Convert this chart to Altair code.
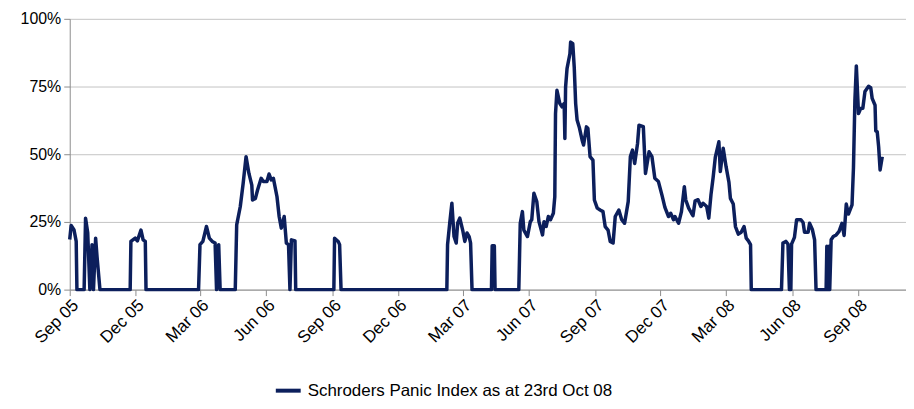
import altair as alt
import pandas as pd

dates = [
    "2005-09-01", "2005-09-03", "2005-09-07", "2005-09-10", "2005-09-11", "2005-09-21", "2005-09-23", "2005-09-26",
    "2005-09-29", "2005-10-02", "2005-10-04", "2005-10-07", "2005-10-09", "2005-10-13", "2005-11-24", "2005-11-25",
    "2005-12-01", "2005-12-04", "2005-12-09", "2005-12-12", "2005-12-15", "2005-12-16",
    "2006-02-27", "2006-03-01", "2006-03-05", "2006-03-10", "2006-03-14", "2006-03-18", "2006-03-22", "2006-03-24",
    "2006-03-27", "2006-03-29", "2006-04-19", "2006-04-21", "2006-04-26", "2006-04-30", "2006-05-04", "2006-05-08",
    "2006-05-12", "2006-05-13", "2006-05-17", "2006-05-20", "2006-05-25", "2006-05-28", "2006-06-02", "2006-06-05",
    "2006-06-08", "2006-06-11", "2006-06-16", "2006-06-19", "2006-06-22", "2006-06-26", "2006-06-29", "2006-07-02",
    "2006-07-04", "2006-07-06", "2006-07-11", "2006-07-12", "2006-09-03", "2006-09-04", "2006-09-09", "2006-09-11",
    "2006-09-13",
    "2007-02-07", "2007-02-08", "2007-02-11", "2007-02-14", "2007-02-17", "2007-02-20", "2007-02-22", "2007-02-25",
    "2007-03-01", "2007-03-04", "2007-03-07", "2007-03-10", "2007-03-12", "2007-03-14", "2007-04-10", "2007-04-11",
    "2007-04-14", "2007-04-15", "2007-05-18", "2007-05-20", "2007-05-23", "2007-05-25", "2007-05-30", "2007-06-03",
    "2007-06-05", "2007-06-08", "2007-06-12", "2007-06-15", "2007-06-20", "2007-06-22", "2007-06-25", "2007-06-28",
    "2007-07-01", "2007-07-05", "2007-07-07", "2007-07-08", "2007-07-10", "2007-07-14", "2007-07-17", "2007-07-20",
    "2007-07-21", "2007-07-22", "2007-07-24", "2007-07-28", "2007-07-29", "2007-08-01", "2007-08-03", "2007-08-05",
    "2007-08-07", "2007-08-10", "2007-08-14", "2007-08-16", "2007-08-20", "2007-08-22", "2007-08-25", "2007-08-29",
    "2007-08-31", "2007-09-04", "2007-09-08", "2007-09-12", "2007-09-15", "2007-09-19", "2007-09-22", "2007-09-26",
    "2007-09-29", "2007-10-04", "2007-10-08", "2007-10-12", "2007-10-17", "2007-10-20", "2007-10-23", "2007-10-26",
    "2007-10-30", "2007-11-01", "2007-11-07", "2007-11-10", "2007-11-15", "2007-11-19", "2007-11-23", "2007-11-28",
    "2007-12-03", "2007-12-07", "2007-12-12", "2007-12-15", "2007-12-19", "2007-12-21", "2007-12-26", "2007-12-30",
    "2008-01-03", "2008-01-05", "2008-01-09", "2008-01-13", "2008-01-15", "2008-01-18", "2008-01-22", "2008-01-26",
    "2008-01-29", "2008-02-03", "2008-02-06", "2008-02-09", "2008-02-12", "2008-02-15", "2008-02-20", "2008-02-22",
    "2008-02-26", "2008-03-01", "2008-03-05", "2008-03-07", "2008-03-11", "2008-03-14", "2008-03-18", "2008-03-22",
    "2008-03-26", "2008-03-29", "2008-04-01", "2008-04-04", "2008-04-05", "2008-05-17", "2008-05-19", "2008-05-23",
    "2008-05-26", "2008-05-28", "2008-05-30", "2008-05-31", "2008-06-04", "2008-06-07", "2008-06-13", "2008-06-16",
    "2008-06-18", "2008-06-23", "2008-06-25", "2008-06-29", "2008-07-02", "2008-07-04", "2008-07-18", "2008-07-19",
    "2008-07-20", "2008-07-22", "2008-07-23", "2008-07-25", "2008-07-28", "2008-08-01", "2008-08-05", "2008-08-09",
    "2008-08-12", "2008-08-15", "2008-08-18", "2008-08-23", "2008-08-25", "2008-08-27", "2008-08-29", "2008-09-01",
    "2008-09-04", "2008-09-07", "2008-09-10", "2008-09-15", "2008-09-18", "2008-09-20", "2008-09-24", "2008-09-25",
    "2008-09-27", "2008-09-29", "2008-10-01", "2008-10-04",
]

values = [
    18.5, 23.7, 22.0, 17.8, 0, 0, 26.4, 21.0,
    0, 16.6, 0, 19.0, 12.0, 0, 0, 17.8,
    19.0, 18.0, 22.0, 18.4, 17.8, 0,
    0, 16.6, 17.8, 23.3, 19.0, 17.8, 17.2, 0,
    16.6, 0, 0, 23.9, 30.7, 39.3, 49.1, 42.9,
    38.6, 33.1, 33.7, 36.8, 41.1, 39.9, 39.9, 42.7,
    40.5, 41.1, 34.3, 27.0, 22.7, 27.0, 17.2, 16.6,
    0, 18.4, 18.0, 0, 0, 19.0, 17.8, 16.6,
    0,
    0, 16.6, 24.5, 31.9, 19.6, 17.2, 24.5, 26.4,
    22.0, 17.8, 20.9, 19.6, 17.2, 0, 0, 16.2,
    16.2, 0, 0, 24.5, 28.8, 22.0, 19.6, 25.1,
    25.8, 35.6, 32.5, 25.1, 20.2, 25.1, 23.3, 27.0,
    25.8, 28.2, 34.3, 65.0, 73.6, 68.7, 67.5, 68.7,
    55.8, 74.8, 81.6, 87.1, 91.4, 90.8, 82.2, 68.7,
    62.6, 60.0, 55.2, 53.4, 60.1, 59.5, 49.1, 47.8,
    33.1, 30.1, 29.4, 28.8, 23.3, 22.0, 17.8, 17.2,
    27.0, 29.4, 25.8, 24.5, 32.5, 49.1, 51.5, 46.6,
    54.0, 60.7, 60.2, 42.9, 50.9, 49.1, 41.1, 39.9,
    34.8, 30.4, 27.0, 28.2, 25.8, 27.0, 24.5, 28.8,
    38.0, 33.1, 30.1, 28.2, 27.3, 32.8, 33.2, 30.7,
    31.9, 30.7, 26.4, 35.0, 41.4, 48.8, 54.6, 43.6,
    52.2, 45.4, 39.6, 33.7, 31.6, 23.3, 20.5, 21.2,
    23.3, 19.0, 18.0, 16.6, 0, 0, 17.2, 17.8,
    16.8, 0, 0, 16.8, 19.3, 25.8, 25.8, 24.8,
    21.2, 21.2, 24.5, 22.1, 18.4, 0, 0, 16.0,
    0, 16.0, 0, 18.4, 19.6, 20.2, 21.5, 24.5,
    20.0, 31.6, 27.9, 31.3, 45.0, 70.0, 82.6, 65.0,
    66.9, 67.0, 73.2, 75.1, 74.6, 70.6, 68.1, 58.6,
    58.3, 52.7, 44.2, 49.1,
]

series_name = "Schroders Panic Index as at 23rd Oct 08"
y_ticks = [0, 25, 50, 75, 100]
x_tick_dates = [(2005, 9), (2005, 12), (2006, 3), (2006, 6), (2006, 9), (2006, 12), (2007, 3),
                (2007, 6), (2007, 9), (2007, 12), (2008, 3), (2008, 6), (2008, 9)]

df = pd.DataFrame({"date": dates, "value": values, "series": series_name})

NAVY = "#0c1f5c"
FONT = "Liberation Sans"

chart = alt.Chart(df).mark_line(strokeWidth=3.5, strokeJoin="round").encode(
    x=alt.X("date:T",
            scale=alt.Scale(type="utc",
                            domain=[alt.DateTime(year=2005, month=9, date=1, utc=True),
                                    alt.DateTime(year=2008, month=11, date=6, utc=True)]),
            axis=alt.Axis(values=[alt.DateTime(year=y, month=m, date=1, utc=True) for y, m in x_tick_dates],
                          labelExpr="utcFormat(datum.value, '%b %y')",
                          labelAngle=-45, labelFontSize=17, labelFont=FONT, labelColor="#000000",
                          tickSize=6, tickColor="#8c8c8c", domainColor="#8c8c8c",
                          grid=False, title=None, labelPadding=1)),
    y=alt.Y("value:Q",
            scale=alt.Scale(domain=[0, 100], nice=False),
            axis=alt.Axis(values=y_ticks, labelExpr="datum.value + '%'",
                          labelFontSize=16, labelFont=FONT, labelColor="#000000",
                          tickSize=6, tickColor="#8c8c8c", domainColor="#8c8c8c",
                          gridColor="#c4c4c4", gridWidth=1, title=None, labelPadding=3)),
    color=alt.Color("series:N",
                    scale=alt.Scale(range=[NAVY]),
                    legend=alt.Legend(title=None, orient="none", legendX=205, legendY=359,
                                      padding=0, labelLimit=500,
                                      symbolType="stroke", symbolStrokeWidth=4, symbolSize=625,
                                      labelFontSize=17, labelFont=FONT, labelColor="#000000",
                                      labelOffset=5)),
).properties(
    width=840, height=272,
    autosize=alt.AutoSizeParams(type="none"),
    padding={"left": 62, "top": 10, "right": 0, "bottom": 111},
).configure_view(stroke=None)

chart.save("out.html", embed_options={"renderer": "svg", "actions": False})
